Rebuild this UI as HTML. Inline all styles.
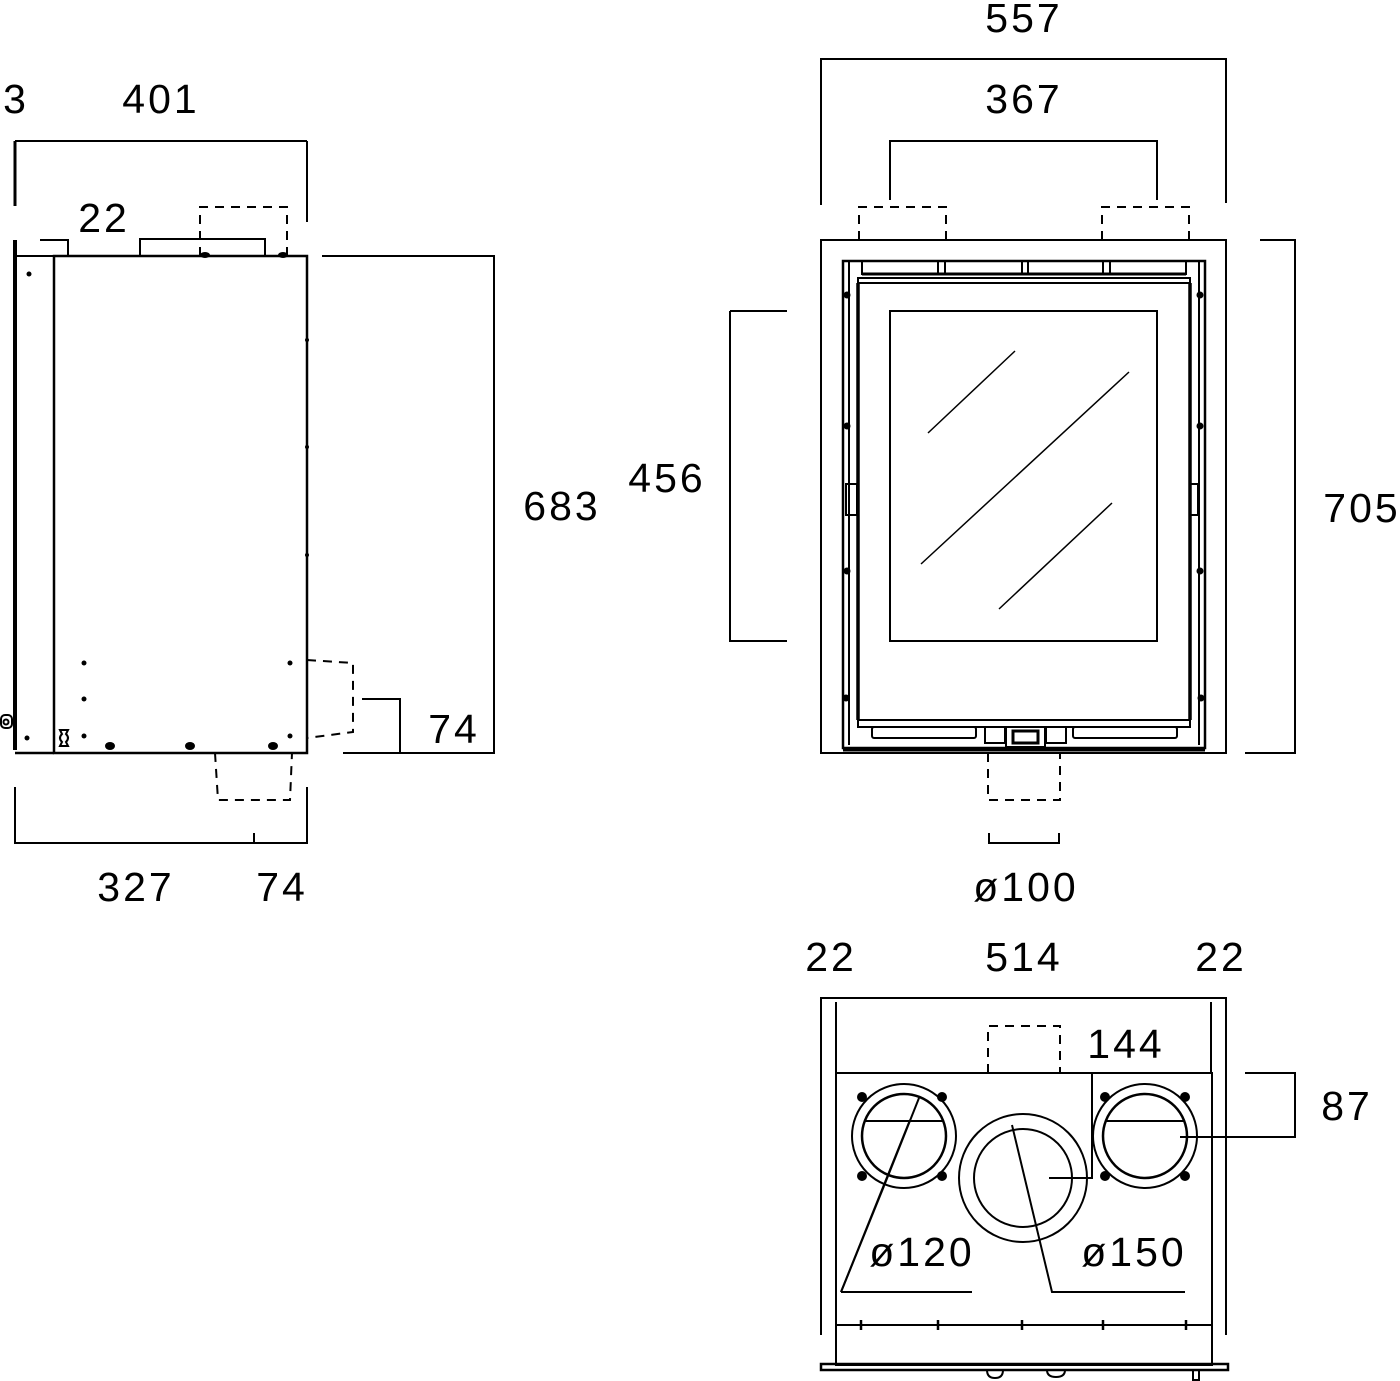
<!DOCTYPE html>
<html><head><meta charset="utf-8"><style>
html,body{margin:0;padding:0;background:#fff;}
svg{display:block;}
text{font-family:"Liberation Sans",sans-serif;font-size:41px;fill:#000;letter-spacing:3px;text-anchor:middle;}
</style></head><body>
<svg width="1400" height="1381" viewBox="0 0 1400 1381" xmlns="http://www.w3.org/2000/svg">
<g fill="none" stroke="#000" stroke-width="2">
<!-- LEFT VIEW -->
<line x1="15" y1="141" x2="307" y2="141"/>
<line x1="15" y1="141" x2="15" y2="206" stroke-width="3"/>
<line x1="307" y1="141" x2="307" y2="222"/>
<line x1="15" y1="240" x2="15" y2="750" stroke-width="4"/>
<polyline points="40,240 68,240 68,256"/>
<rect x="140" y="239" width="125" height="17"/>
<polyline points="200,256 200,207 287,207 287,256" stroke-dasharray="9,7"/>
<rect x="54" y="256" width="253" height="497" stroke-width="2.5"/>
<line x1="15" y1="256" x2="54" y2="256"/>
<line x1="15" y1="753" x2="54" y2="753" stroke-width="2.5"/>
<polyline points="322,256 494,256 494,753 343,753"/>
<polyline points="362,699 400,699 400,753"/>
<polyline points="307,660 353,663 353,732 307,738" stroke-dasharray="9,7"/>
<polyline points="215,753 218,800 290,800 292,753" stroke-dasharray="9,7"/>
<polyline points="15,787 15,843 307,843 307,787"/>
<line x1="254" y1="833" x2="254" y2="843"/>
<rect x="1" y="715" width="11" height="13" rx="4"/>
<circle cx="6" cy="722" r="2.5"/>
<path d="M60,730 h8 l-2,4 q4,4 0,8 l2,4 h-8 l2,-4 q-4,-4 0,-8 z"/>
<!-- FRONT VIEW -->
<polyline points="821,205 821,59 1226,59 1226,203"/>
<polyline points="890,200 890,141 1157,141 1157,200"/>
<polyline points="859,240 859,207 946,207 946,240" stroke-dasharray="9,7"/>
<polyline points="1102,240 1102,207 1189,207 1189,240" stroke-dasharray="9,7"/>
<rect x="821" y="240" width="405" height="513"/>
<rect x="843" y="261" width="362" height="487" stroke-width="2.5"/>
<line x1="849" y1="261" x2="849" y2="745"/>
<line x1="1199" y1="261" x2="1199" y2="745"/>
<line x1="862" y1="261" x2="862" y2="275"/><line x1="938" y1="261" x2="938" y2="275"/><line x1="945" y1="261" x2="945" y2="275"/>
<line x1="1022" y1="261" x2="1022" y2="275"/><line x1="1028" y1="261" x2="1028" y2="275"/><line x1="1103" y1="261" x2="1103" y2="275"/><line x1="1110" y1="261" x2="1110" y2="275"/><line x1="1186" y1="261" x2="1186" y2="275"/>
<line x1="862" y1="274" x2="1186" y2="274" stroke-width="3"/>
<rect x="858" y="278" width="332" height="5"/>
<rect x="858" y="283" width="332" height="437" stroke-width="1.5"/>
<line x1="858" y1="283" x2="858" y2="720" stroke-width="3.5"/>
<line x1="1190" y1="283" x2="1190" y2="720" stroke-width="3.5"/>
<rect x="858" y="720" width="332" height="7"/>
<rect x="890" y="311" width="267" height="330"/>
<line x1="928" y1="433" x2="1015" y2="351" stroke-width="1.5"/>
<line x1="921" y1="564" x2="1129" y2="372" stroke-width="1.5"/>
<line x1="999" y1="609" x2="1112" y2="503" stroke-width="1.5"/>
<rect x="846" y="484" width="11" height="31"/>
<rect x="1190" y="484" width="8" height="31"/>
<rect x="872" y="727" width="104" height="11" rx="2"/>
<rect x="1073" y="727" width="104" height="11" rx="2"/>
<rect x="985" y="727" width="20" height="16"/>
<rect x="1046" y="727" width="20" height="16"/>
<rect x="1006" y="727" width="39" height="20"/>
<rect x="1013" y="731" width="25" height="12" stroke-width="3"/>
<line x1="843" y1="750" x2="1205" y2="750" stroke-width="3"/>
<polyline points="730,311 787,311"/><polyline points="787,641 730,641 730,311"/>
<polyline points="1260,240 1295,240 1295,753 1245,753"/>
<polyline points="988,753 988,800 1060,800 1060,753" stroke-dasharray="9,7"/>
<polyline points="989,833 989,843 1059,843 1059,833"/>
<!-- BOTTOM VIEW -->
<polyline points="821,1335 821,998 1226,998 1226,1335"/>
<line x1="836" y1="1002" x2="836" y2="1073"/>
<line x1="1211" y1="1002" x2="1211" y2="1073"/>
<polyline points="988,1073 988,1026 1060,1026 1060,1073" stroke-dasharray="9,7"/>
<rect x="836" y="1073" width="376" height="252"/>
<rect x="836" y="1325" width="376" height="40"/>
<rect x="821" y="1364" width="407" height="6" stroke-width="2.5"/>
<circle cx="904" cy="1136" r="52"/><circle cx="904" cy="1136" r="42" stroke-width="2.5"/>
<line x1="864" y1="1121" x2="944" y2="1121"/>
<circle cx="1145" cy="1136" r="52"/><circle cx="1145" cy="1136" r="42" stroke-width="2.5"/>
<line x1="1105" y1="1121" x2="1185" y2="1121"/>
<circle cx="1023" cy="1178" r="64"/><circle cx="1023" cy="1178" r="49"/>
<line x1="919" y1="1098" x2="884" y2="1186"/>
<line x1="910" y1="1120" x2="841" y2="1292"/>
<line x1="884" y1="1186" x2="841" y2="1292"/>
<line x1="841" y1="1292" x2="972" y2="1292"/>
<polyline points="1012,1125 1052,1292 1185,1292"/>
<polyline points="1092,1073 1092,1178 1049,1178"/>
<polyline points="1180,1137 1295,1137 1295,1073 1245,1073"/>
<g stroke-width="2.5">
<line x1="861" y1="1320" x2="861" y2="1330"/><line x1="938" y1="1320" x2="938" y2="1330"/><line x1="1022" y1="1320" x2="1022" y2="1330"/><line x1="1103" y1="1320" x2="1103" y2="1330"/><line x1="1186" y1="1320" x2="1186" y2="1330"/>
</g>
<rect x="1193" y="1370" width="6" height="10"/>
<path d="M987,1370 q0,8 8,8 q8,0 8,-8"/>
<path d="M1047,1370 q0,7 9,7 q9,0 9,-7"/>
</g>
<g fill="#000">
<circle cx="29" cy="274" r="2.5"/><circle cx="27" cy="738" r="2.5"/>
<circle cx="84" cy="663" r="2.5"/><circle cx="84" cy="699" r="2.5"/><circle cx="84" cy="736" r="2.5"/>
<circle cx="290" cy="663" r="2.5"/><circle cx="290" cy="736" r="2.5"/>
<ellipse cx="110" cy="746" rx="5" ry="4"/><ellipse cx="190" cy="746" rx="5" ry="4"/><ellipse cx="273" cy="746" rx="5" ry="4"/>
<ellipse cx="205" cy="255" rx="5" ry="3"/><ellipse cx="283" cy="255" rx="5" ry="3"/>
<circle cx="307" cy="340" r="2"/><circle cx="307" cy="447" r="2"/><circle cx="307" cy="555" r="2"/>
<circle cx="847" cy="295" r="3.5"/><circle cx="847" cy="426" r="3.5"/><circle cx="847" cy="571" r="3.5"/><circle cx="846" cy="698" r="3.5"/>
<circle cx="1200" cy="295" r="3.5"/><circle cx="1200" cy="426" r="3.5"/><circle cx="1200" cy="571" r="3.5"/><circle cx="1201" cy="698" r="3.5"/>
<circle cx="862" cy="1097" r="5"/><circle cx="942" cy="1097" r="5"/><circle cx="862" cy="1176" r="5"/><circle cx="942" cy="1176" r="5"/>
<circle cx="1105" cy="1097" r="5"/><circle cx="1185" cy="1097" r="5"/><circle cx="1105" cy="1176" r="5"/><circle cx="1185" cy="1176" r="5"/>
</g>
<text x="16" y="113">3</text>
<text x="161" y="113">401</text>
<text x="104" y="232">22</text>
<text x="562" y="520">683</text>
<text x="454" y="743">74</text>
<text x="136" y="901">327</text>
<text x="282" y="901">74</text>
<text x="1024" y="32">557</text>
<text x="1024" y="113">367</text>
<text x="667" y="492">456</text>
<text x="1362" y="522">705</text>
<text x="1026" y="901">ø100</text>
<text x="831" y="971">22</text>
<text x="1024" y="971">514</text>
<text x="1221" y="971">22</text>
<text x="1126" y="1058">144</text>
<text x="1347" y="1120">87</text>
<text x="922" y="1266">ø120</text>
<text x="1134" y="1266">ø150</text>
</svg>
</body></html>
